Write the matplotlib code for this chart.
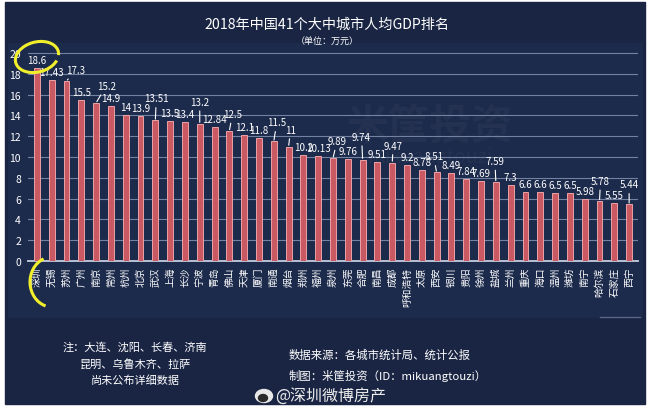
import matplotlib
matplotlib.use('Agg')
import matplotlib.pyplot as plt
from matplotlib.patches import Rectangle, Ellipse, Arc
import numpy as np

plt.rcParams['font.family'] = ['Noto Sans CJK SC', 'DejaVu Sans']

# data
cities = ['深圳', '无锡', '苏州', '广州', '南京', '常州', '杭州', '北京', '武汉', '上海',
          '长沙', '宁波', '青岛', '佛山', '天津', '厦门', '南通', '烟台', '郑州', '福州',
          '泉州', '东莞', '合肥', '南昌', '成都', '呼和浩特', '太原', '西安', '银川', '贵阳',
          '徐州', '盐城', '兰州', '重庆', '海口', '温州', '潍坊', '南宁', '哈尔滨', '石家庄',
          '西宁']
gdp_per_capita = [18.6, 17.43, 17.3, 15.5, 15.2, 14.9, 14, 13.9, 13.51, 13.5,
                  13.4, 13.2, 12.84, 12.5, 12.1, 11.8, 11.5, 11, 10.2, 10.13,
                  9.89, 9.76, 9.74, 9.51, 9.47, 9.2, 8.78, 8.51, 8.49, 7.84,
                  7.69, 7.59, 7.3, 6.6, 6.6, 6.5, 6.5, 5.98, 5.78, 5.55,
                  5.44]
y_ticks = list(range(0, 21, 2))

title = '2018年中国41个大中城市人均GDP排名'
subtitle = '（单位：万元）'
note_lines = ['注：大连、沈阳、长春、济南', '昆明、乌鲁木齐、拉萨', '尚未公布详细数据']
source_lines = ['数据来源：各城市统计局、统计公报', '制图：米筐投资（ID：mikuangtouzi）']
weibo = '@深圳微博房产'

# label placement in pixels; lifted labels get a leader line
lift_dx = {2: 9, 4: 10, 8: 1, 11: 0, 13: 3, 16: 3, 17: 2, 20: 4, 22: -1, 24: 1,
           27: -3, 31: -1, 38: 1, 40: 0}
lift_dy = {2: 6, 4: 12, 8: 17, 11: 17, 13: 12, 16: 14, 17: 12, 20: 12, 22: 18, 24: 12,
           27: 11, 31: 16, 38: 15, 40: 15}

navy = '#1a2544'
panel = '#1c2a4b'
bar_face = '#c95a63'
bar_edge = '#eba3a7'
grid_col = '#7482a2'

fig = plt.figure(figsize=(6.5, 4.1), dpi=100)
fig.patch.set_facecolor('white')

# background in pixel coords
bg = fig.add_axes([0, 0, 1, 1], zorder=0)
bg.set_xlim(0, 650)
bg.set_ylim(410, 0)
bg.axis('off')
bg.add_patch(Rectangle((5, 3), 640, 402, color=navy))
bg.add_patch(Rectangle((8, 44), 634, 274, color=panel))
bg.plot([600, 640], [318, 318], color='#5a6784', lw=1)

bg.text(327, 25, title, color='white', fontsize=10.2, ha='center', va='center')
bg.text(327, 41, subtitle, color='white', fontsize=6.5, ha='center', va='center')

# faint watermark
bg.text(430, 128, '米筐投资', color='white', alpha=0.035, fontsize=30,
        ha='center', va='center', fontweight='bold')
bg.text(430, 158, 'mikuangtouzi', color='white', alpha=0.035, fontsize=14,
        ha='center', va='center')

for i, line in enumerate(note_lines):
    bg.text(135, 347 + i * 17, line, color='white', fontsize=8, ha='center', va='center')
for i, line in enumerate(source_lines):
    bg.text(289, 355 + i * 21, line, color='white', fontsize=8.2, ha='left', va='center')

bg.add_patch(Ellipse((264, 397), 17, 13, color='#e8e8e8'))
bg.add_patch(Ellipse((263, 399), 9, 7, color='#2a2a2a'))
bg.text(275, 396, weibo, color='#ececec', fontsize=11.5, ha='left', va='center')

# main chart
px_unit = 10.4
ymax = 20.5
ax = fig.add_axes([28 / 650, 1 - 262 / 410, 610 / 650, ymax * px_unit / 410], zorder=2)
ax.patch.set_alpha(0)

x = np.arange(len(cities))
ax.bar(x, gdp_per_capita, width=0.4, color=bar_face, edgecolor=bar_edge, linewidth=0.7, zorder=3)

ax.set_xlim(-0.6, len(cities) - 0.4)
ax.set_ylim(0, ymax)
ax.set_yticks(y_ticks)
ax.set_yticklabels([str(t) for t in y_ticks], color='white', fontsize=7.5)
ax.set_xticks(x)
ax.set_xticklabels(cities, rotation=90, color='white', fontsize=7)
ax.tick_params(length=0)
ax.tick_params(axis='y', pad=5)
ax.tick_params(axis='x', pad=4)
ax.grid(axis='y', color=grid_col, lw=0.8, zorder=1)
for side in ['top', 'right', 'left']:
    ax.spines[side].set_visible(False)
ax.spines['bottom'].set_color('#b9c1d3')
ax.spines['bottom'].set_linewidth(1.4)

for i, v in enumerate(gdp_per_capita):
    lab = f'{v:g}'
    if i in lift_dy:
        ax.annotate(lab, xy=(i, v), xytext=(lift_dx[i], lift_dy[i]), textcoords='offset pixels',
                    ha='center', va='bottom', color='white', fontsize=7,
                    arrowprops=dict(arrowstyle='-', color='white', lw=0.8, shrinkA=1, shrinkB=1),
                    zorder=4)
    else:
        ax.annotate(lab, xy=(i, v), xytext=(0, 3), textcoords='offset pixels',
                    ha='center', va='bottom', color='white', fontsize=7, zorder=4)

# yellow hand-drawn marks
ov = fig.add_axes([0, 0, 1, 1], zorder=5)
ov.set_xlim(0, 650)
ov.set_ylim(410, 0)
ov.axis('off')
ov.patch.set_alpha(0)
ov.add_patch(Arc((37, 58), 44, 30, angle=-15, theta1=25, theta2=370, color='#f1ef2c', lw=2.2))
ov.add_patch(Arc((52, 283), 44, 50, theta1=105, theta2=250, color='#f1ef2c', lw=2.2))

fig.savefig('out.png', dpi=100)
